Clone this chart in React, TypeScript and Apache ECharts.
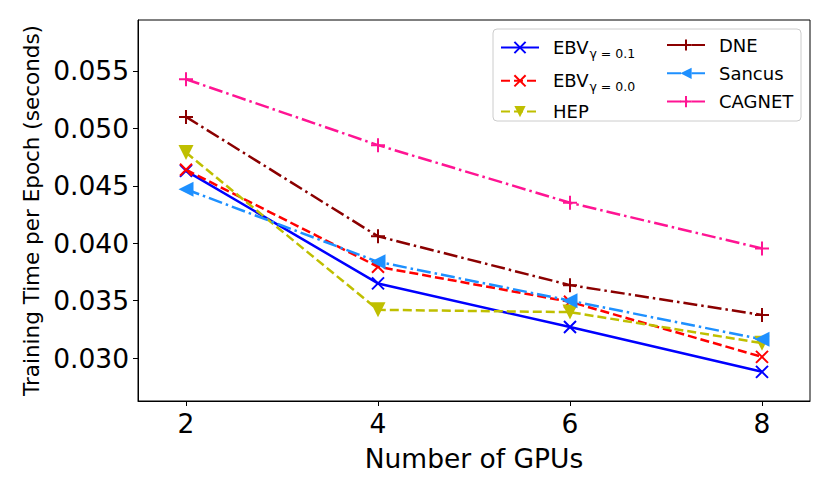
import React, { useEffect, useRef } from "react";
import * as echarts from "echarts";

const gpus = [2, 4, 6, 8];
const ebv01 = [0.0463, 0.0365, 0.0327, 0.0288];
const ebv00 = [0.0464, 0.03795, 0.0349, 0.0301];
const hep = [0.0479, 0.0342, 0.034, 0.0313];
const dne = [0.051, 0.0406, 0.03635, 0.03375];
const sancus = [0.0447, 0.03838, 0.035, 0.03163];
const cagnet = [0.05428, 0.04854, 0.04352, 0.03955];
const xTicks = [2, 4, 6, 8];
const yTicks = [0.03, 0.035, 0.04, 0.045, 0.05, 0.055];

const X_SYM = "path://M0,0L10,10M10,0L0,10";
const PLUS_SYM = "path://M5,0L5,10M0,5L10,5";
const DASH = [9, 4];
const DASHDOT = [14, 4, 2.5, 4];

function pts(vals: number[]) {
  return gpus.map((g, i) => [g, vals[i]]);
}

export default function App() {
  const ref = useRef<HTMLDivElement>(null);
  useEffect(() => {
    const chart = echarts.init(ref.current!, null, { renderer: "svg" });
    const font = "DejaVu Sans";
    const mk = (
      name: string,
      vals: number[],
      color: string,
      type: any,
      symbol: string,
      size: number,
      rotate: number,
      stroked: boolean
    ) => ({
      name,
      type: "line",
      data: pts(vals),
      symbol,
      symbolSize: size,
      symbolRotate: rotate,
      symbolKeepAspect: true,
      showSymbol: true,
      lineStyle: { color, width: 2.5, type },
      itemStyle: stroked
        ? { color: "rgba(0,0,0,0)", borderColor: color, borderWidth: 2 }
        : { color, borderColor: color, borderWidth: 0 },
      emphasis: { disabled: true },
      z: 3,
    });
    const legendText = {
      fontFamily: font,
      fontSize: 18,
      color: "#000",
      lineHeight: 20,
      padding: [0, 0, 0, 9],
      rich: {
        main: { fontFamily: font, fontSize: 18, color: "#000", lineHeight: 20 },
        sub: {
          fontFamily: font,
          fontSize: 12.5,
          color: "#000",
          lineHeight: 20,
          padding: [12, 0, 0, 1],
        },
      },
    };
    chart.setOption({
      animation: false,
      grid: {
        left: 138,
        top: 20,
        right: 20,
        bottom: 92,
        show: true,
        borderColor: "#000",
        borderWidth: 1,
        backgroundColor: "#fff",
      },
      xAxis: {
        type: "value",
        min: 1.5,
        max: 8.5,
        name: "Number of GPUs",
        nameLocation: "middle",
        nameGap: 44,
        nameTextStyle: { fontFamily: font, fontSize: 26.5, color: "#000" },
        axisLine: { show: true, lineStyle: { color: "#000", width: 1 } },
        axisTick: {
          show: true,
          inside: false,
          length: 5,
          customValues: xTicks,
          lineStyle: { color: "#000" },
        },
        axisLabel: {
          customValues: xTicks,
          fontFamily: font,
          fontSize: 26.5,
          color: "#000",
          margin: 9,
        },
        splitLine: { show: false },
      },
      yAxis: {
        type: "value",
        min: 0.02626,
        max: 0.05944,
        name: "Training Time per Epoch (seconds)",
        nameLocation: "middle",
        nameGap: 96,
        nameTextStyle: { fontFamily: font, fontSize: 21.5, color: "#000" },
        axisLine: { show: true, lineStyle: { color: "#000", width: 1 } },
        axisTick: {
          show: true,
          inside: false,
          length: 5,
          customValues: yTicks,
          lineStyle: { color: "#000" },
        },
        axisLabel: {
          customValues: yTicks,
          fontFamily: font,
          fontSize: 26.5,
          color: "#000",
          margin: 9,
          formatter: (v: number) => v.toFixed(3),
        },
        splitLine: { show: false },
      },
      legend: [
        {
          data: ["EBV γ=0.1", "EBV γ=0.0", "HEP"],
          orient: "vertical",
          left: 500,
          top: 35,
          padding: 0,
          itemWidth: 38,
          itemHeight: 14,
          itemGap: 8.3,
          selectedMode: false,
          z: 20,
          textStyle: legendText,
          formatter: (name: string) => {
            if (name === "EBV γ=0.1") return "{main|EBV}{sub|γ = 0.1}";
            if (name === "EBV γ=0.0") return "{main|EBV}{sub|γ = 0.0}";
            return "{main|" + name + "}";
          },
        },
        {
          data: ["DNE", "Sancus", "CAGNET"],
          orient: "vertical",
          left: 666,
          top: 35,
          padding: 0,
          itemWidth: 38,
          itemHeight: 14,
          itemGap: 8.3,
          selectedMode: false,
          z: 20,
          textStyle: legendText,
          formatter: (name: string) => "{main|" + name + "}",
        },
      ],
      graphic: [
        {
          type: "rect",
          shape: { x: 493, y: 29, width: 308, height: 92, r: 4 },
          style: { fill: "rgba(255,255,255,0.8)", stroke: "#cccccc", lineWidth: 1 },
          z: 5,
          silent: true,
        },
      ],
      series: [
        mk("EBV γ=0.1", ebv01, "#0000ff", "solid", X_SYM, 12, 0, true),
        mk("EBV γ=0.0", ebv00, "#ff0000", DASH, X_SYM, 12, 0, true),
        mk("HEP", hep, "#bfbf00", DASH, "triangle", 15, 180, false),
        mk("DNE", dne, "#8b0000", DASHDOT, PLUS_SYM, 14, 0, true),
        mk("Sancus", sancus, "#1e90ff", DASHDOT, "triangle", 15, 90, false),
        mk("CAGNET", cagnet, "#ff1493", DASHDOT, PLUS_SYM, 14, 0, true),
      ],
    });
    return () => chart.dispose();
  }, []);
  return (
    <div
      ref={ref}
      style={{ position: "absolute", left: 0, top: 0, width: 830, height: 493 }}
    />
  );
}
